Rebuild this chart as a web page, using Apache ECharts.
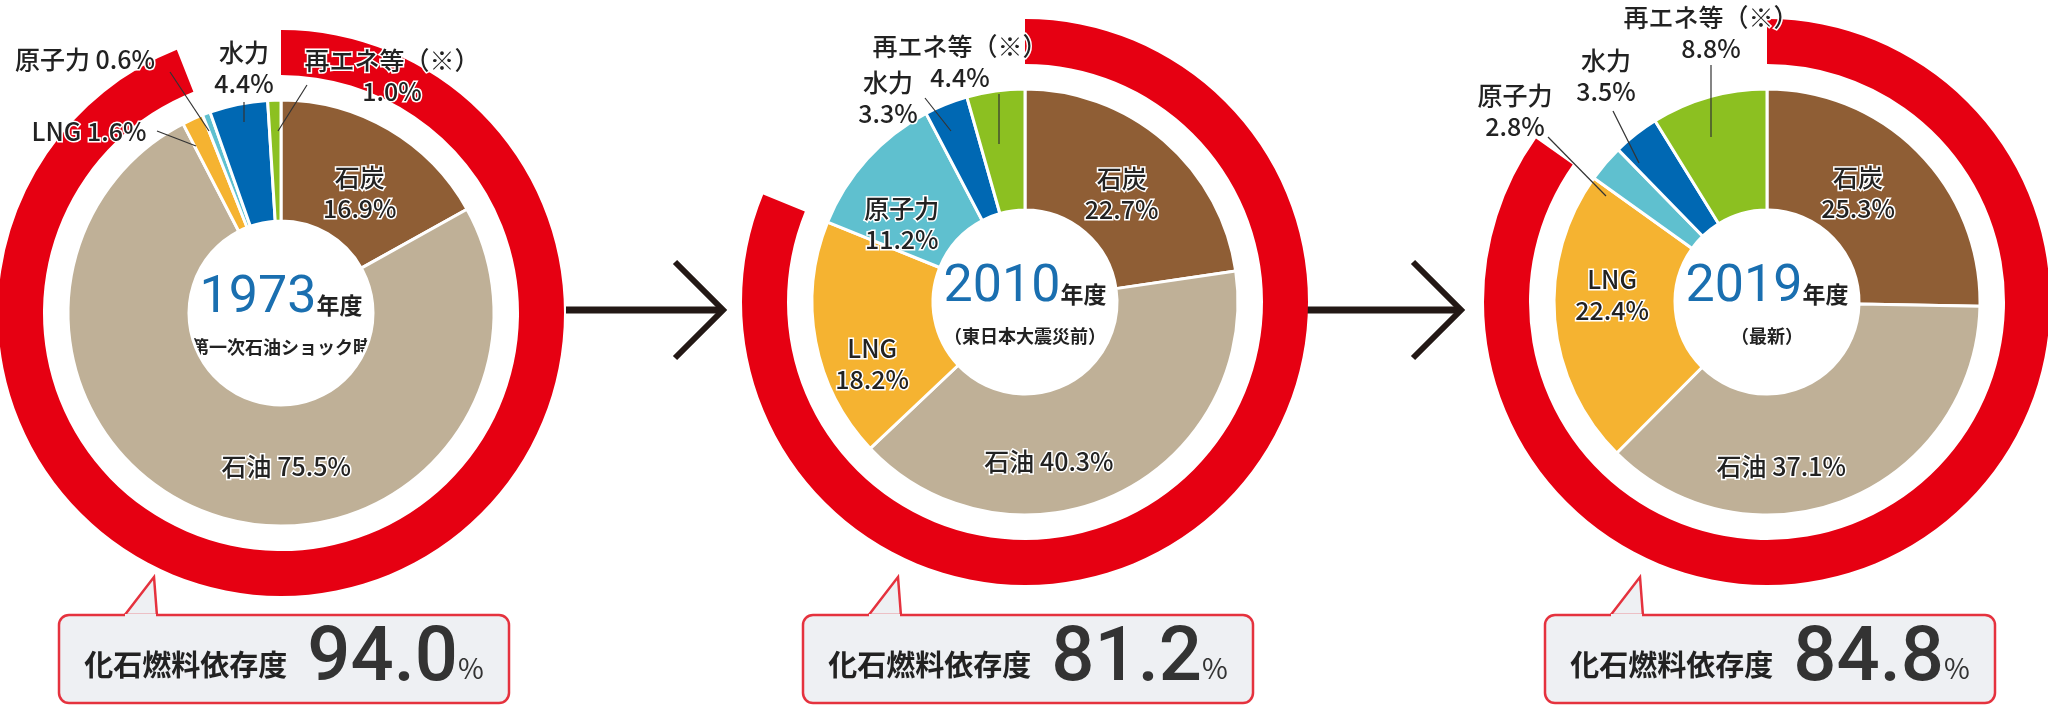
<!DOCTYPE html><html><head><meta charset="utf-8"><script src="https://cdn.jsdelivr.net/npm/echarts@6/dist/echarts.min.js"></script>
<style>html,body{margin:0;background:#fff}#c{width:2048px;height:709px}</style></head><body><div id="c"></div><script>
const categories=['石炭','石油','LNG','原子力','水力','再エネ等（※）'];
const colors=['#8f5e35','#bfb097','#f5b331','#5fc0cf','#0068b3','#8cc021'];
const years=['1973','2010','2019'];
const subtitles=['第一次石油ショック時','（東日本大震災前）','（最新）'];
const v1973=[16.9,75.5,1.6,0.6,4.4,1.0];
const v2010=[22.7,40.3,18.2,11.2,3.3,4.4];
const v2019=[25.3,37.1,22.4,2.8,3.5,8.8];
const fossil=[94.0,81.2,84.8];
const all=[v1973,v2010,v2019];
const centers=[[281,313],[1025,302],[1767,302]];
const F='"Noto Sans CJK JP","Noto Sans",sans-serif';
// inside label offsets (null = outside label drawn separately)
const inOff=[
 [[0,14],[50,5],null,null,null,null],
 [[-5,10],[-44,20],[0,33],[-8,26],null,null],
 [[-20,0],[-44,20],[0,-20],null,null,null]
];
// outside labels: [chart, slice, textX, textY, oneLine, line]
const outs=[
 [0,3,85,59,true,[[170,72],[209,131]]],
 [0,2,89,131,true,[[157,131],[196,146]]],
 [0,4,244,68,false,[[244,102],[244,122]]],
 [0,5,392,76,false,[[307,85],[278,131]]],
 [1,5,960,62,false,[[999,94],[999,144]]],
 [1,4,888,98,false,[[925,98],[951,131]]],
 [2,5,1711,33,false,[[1711,65],[1711,137]]],
 [2,4,1606,76,false,[[1613,111],[1639,163]]],
 [2,3,1515,111,false,[[1548,137],[1606,196]]]
];
const series=[];const graphic=[];
const ts={fontFamily:F,fontSize:25,lineHeight:31,fill:'#222',stroke:'#fff',lineWidth:3,fontWeight:500,align:'center',verticalAlign:'middle'};
all.forEach((vals,i)=>{
 const c=centers[i];
 series.push({type:'pie',center:c,radius:[238,283],startAngle:90,clockwise:true,silent:true,label:{show:false},
  data:[{value:fossil[i],itemStyle:{color:'#e60012'}},{value:100-fossil[i],itemStyle:{color:'rgba(0,0,0,0)'}}]});
 series.push({type:'pie',center:c,radius:[92,213],startAngle:90,clockwise:true,avoidLabelOverlap:false,
  itemStyle:{borderColor:'#fff',borderWidth:3},labelLine:{show:false},
  data:vals.map((v,k)=>{const o=inOff[i][k];
   return {name:categories[k],value:v,itemStyle:{color:colors[k]},
    label:{show:!!o,position:'inside',offset:o||[0,0],formatter:categories[k]+(k===1?' ':'\n')+v.toFixed(1)+'%',
     fontFamily:F,fontSize:25,lineHeight:31,color:'#222',textBorderColor:'#fff',textBorderWidth:3,fontWeight:500,align:'center'}};})
 });
 graphic.push({type:'text',x:c[0],y:c[1]-14,style:{align:'center',verticalAlign:'middle',rich:{y:{fontSize:52,fontFamily:'Roboto,sans-serif',fill:'#1a6fb0'},t:{fontSize:23,fill:'#222',fontFamily:F,fontWeight:'bold',padding:[12,0,0,0]}},text:'{y|'+years[i]+'}{t|年度}'}});
 graphic.push({type:'text',x:c[0],y:c[1]+34,style:{text:subtitles[i],fontSize:18,fontFamily:F,fill:'#222',fontWeight:'bold',align:'center',verticalAlign:'middle'}});
 const bx=c[0]-222,by=615;
 graphic.push({type:'polygon',shape:{points:[[bx+65,by+1],[bx+95,by-38],[bx+98,by+1]]},style:{fill:'#eef0f3',stroke:'#e5323e',lineWidth:2.5}});
 graphic.push({type:'rect',shape:{x:bx,y:by,width:450,height:88,r:10},style:{fill:'#eef0f3',stroke:'#e5323e',lineWidth:2.5},z:1});
 graphic.push({type:'rect',shape:{x:bx+66,y:by-1,width:31,height:5},style:{fill:'#eef0f3'},z:2});
 graphic.push({type:'text',x:bx+225,y:by+46,z:3,style:{align:'center',verticalAlign:'middle',rich:{a:{fontSize:29,fontFamily:F,fill:'#222',fontWeight:'bold',padding:[8,20,0,0]},n:{fontSize:76,fontFamily:'Roboto,sans-serif',fill:'#333',fontWeight:500},p:{fontSize:28,fontFamily:F,fill:'#333',padding:[14,0,0,0]}},text:'{a|化石燃料依存度}{n|'+fossil[i].toFixed(1)+'}{p|%}'}});
});
outs.forEach(o=>{
 const v=all[o[0]][o[1]];
 graphic.push({type:'text',x:o[2],y:o[3],z:5,style:Object.assign({},ts,{text:categories[o[1]]+(o[4]?' ':'\n')+v.toFixed(1)+'%'})});
 graphic.push({type:'line',z:5,shape:{x1:o[5][0][0],y1:o[5][0][1],x2:o[5][1][0],y2:o[5][1][1]},style:{stroke:'#333',lineWidth:1.2}});
});
[[566,725],[1306,1463]].forEach(a=>{
 graphic.push({type:'line',shape:{x1:a[0],y1:310,x2:a[1]-4,y2:310},style:{stroke:'#231815',lineWidth:7}});
 graphic.push({type:'polyline',shape:{points:[[a[1]-50,262],[a[1]-2,310],[a[1]-50,358]]},style:{stroke:'#231815',lineWidth:6,fill:null}});
});
const ch=echarts.init(document.getElementById('c'));
ch.setOption({animation:false,series,graphic});
</script></body></html>
